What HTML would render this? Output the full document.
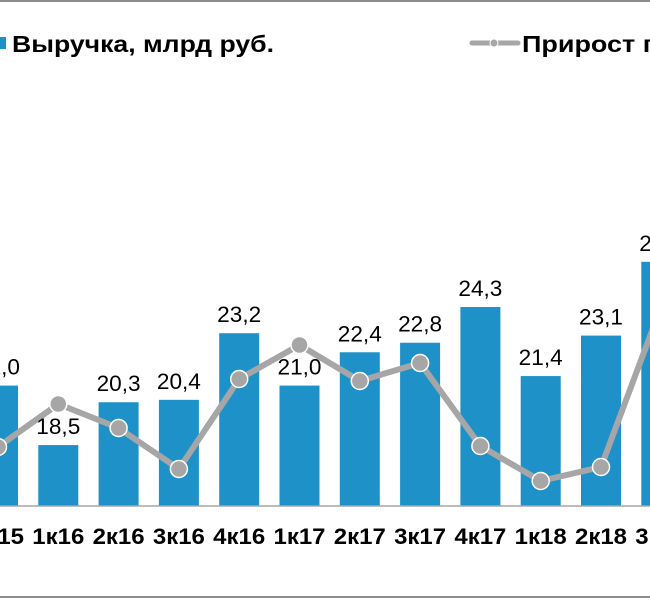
<!DOCTYPE html>
<html><head><meta charset="utf-8"><style>
html,body{margin:0;padding:0;background:#fff;}
svg{display:block;font-family:"Liberation Sans",Arial,sans-serif;}
</style></head><body>
<svg id="chart" width="650" height="600" viewBox="0 0 650 600">
<line x1="0" y1="1" x2="650" y2="1" stroke="#8c8c8c" stroke-width="2"/>
<line x1="0" y1="597" x2="650" y2="597" stroke="#8c8c8c" stroke-width="2"/>
<g>
<rect x="0" y="37" width="6" height="12" fill="#1e92c8"/>
<text x="12" y="52" font-size="23" font-weight="bold" fill="#000" textLength="262" lengthAdjust="spacingAndGlyphs">Выручка, млрд руб.</text>
<line x1="472" y1="43" x2="518" y2="43" stroke="#a6a6a6" stroke-width="5" stroke-linecap="round"/>
<circle cx="494" cy="43" r="4" fill="#a6a6a6" stroke="#fff" stroke-width="1"/>
<text x="522" y="52" font-size="23" font-weight="bold" fill="#000" textLength="132" lengthAdjust="spacingAndGlyphs">Прирост г</text>
</g>
<g id="bars"></g><g id="line"></g><g id="labels"></g>
<line x1="0" y1="506" x2="650" y2="506" stroke="#a6a6a6" stroke-width="1.5"/>
</svg>
<script>
const categories = ["4к15","1к16","2к16","3к16","4к16","1к17","2к17","3к17","4к17","1к18","2к18","3к18"];
const revenue = [21.0,18.5,20.3,20.4,23.2,21.0,22.4,22.8,24.3,21.4,23.1,26.2];
const revenueLabels = ["21,0","18,5","20,3","20,4","23,2","21,0","22,4","22,8","24,3","21,4","23,1","26,2"];
const growth = [5.9,10.2,7.8,3.7,12.7,16.1,12.5,14.3,6.0,2.5,3.9,20.0];
const NS="http://www.w3.org/2000/svg";
const x0=-2, step=60.3, bw=40, base=506;
function xPos(i){return x0+i*step;}
function yRev(v){return base-(v-15.94)*23.8;}
function yGr(g){return base-g*10;}
function mk(t,a,p){const e=document.createElementNS(NS,t);for(const k in a)e.setAttribute(k,a[k]);p.appendChild(e);return e;}
const gb=document.getElementById('bars'),gl=document.getElementById('line'),gt=document.getElementById('labels');
categories.forEach((c,i)=>{
  const cx=xPos(i),y=yRev(revenue[i]);
  const r=mk('rect',{x:cx-bw/2,y:y,width:bw,height:base-y,fill:'#1e92c8'},gb);
  
  
  const t=mk('text',{x:cx,y:y-11,'text-anchor':'middle','font-size':'22',fill:'#000',textLength:'44',lengthAdjust:'spacingAndGlyphs'},gt);
  t.textContent=revenueLabels[i];
  
  
  const xl=mk('text',{x:cx,y:544,'text-anchor':'middle','font-size':'22','font-weight':'bold',fill:'#000',textLength:'52',lengthAdjust:'spacingAndGlyphs'},gt);
  xl.textContent=c;
  
  
});
const pts=growth.map((g,i)=>xPos(i)+','+yGr(g)).join(' ');
const pl=mk('polyline',{points:pts,fill:'none',stroke:'#a6a6a6','stroke-width':'6','stroke-linejoin':'round'},gl);


growth.forEach((g,i)=>{
  const m=mk('circle',{cx:xPos(i),cy:yGr(g),r:8.5,fill:'#a6a6a6',stroke:'#fff','stroke-width':'1.5'},gl);
  
  
});
</script>
</body></html>
